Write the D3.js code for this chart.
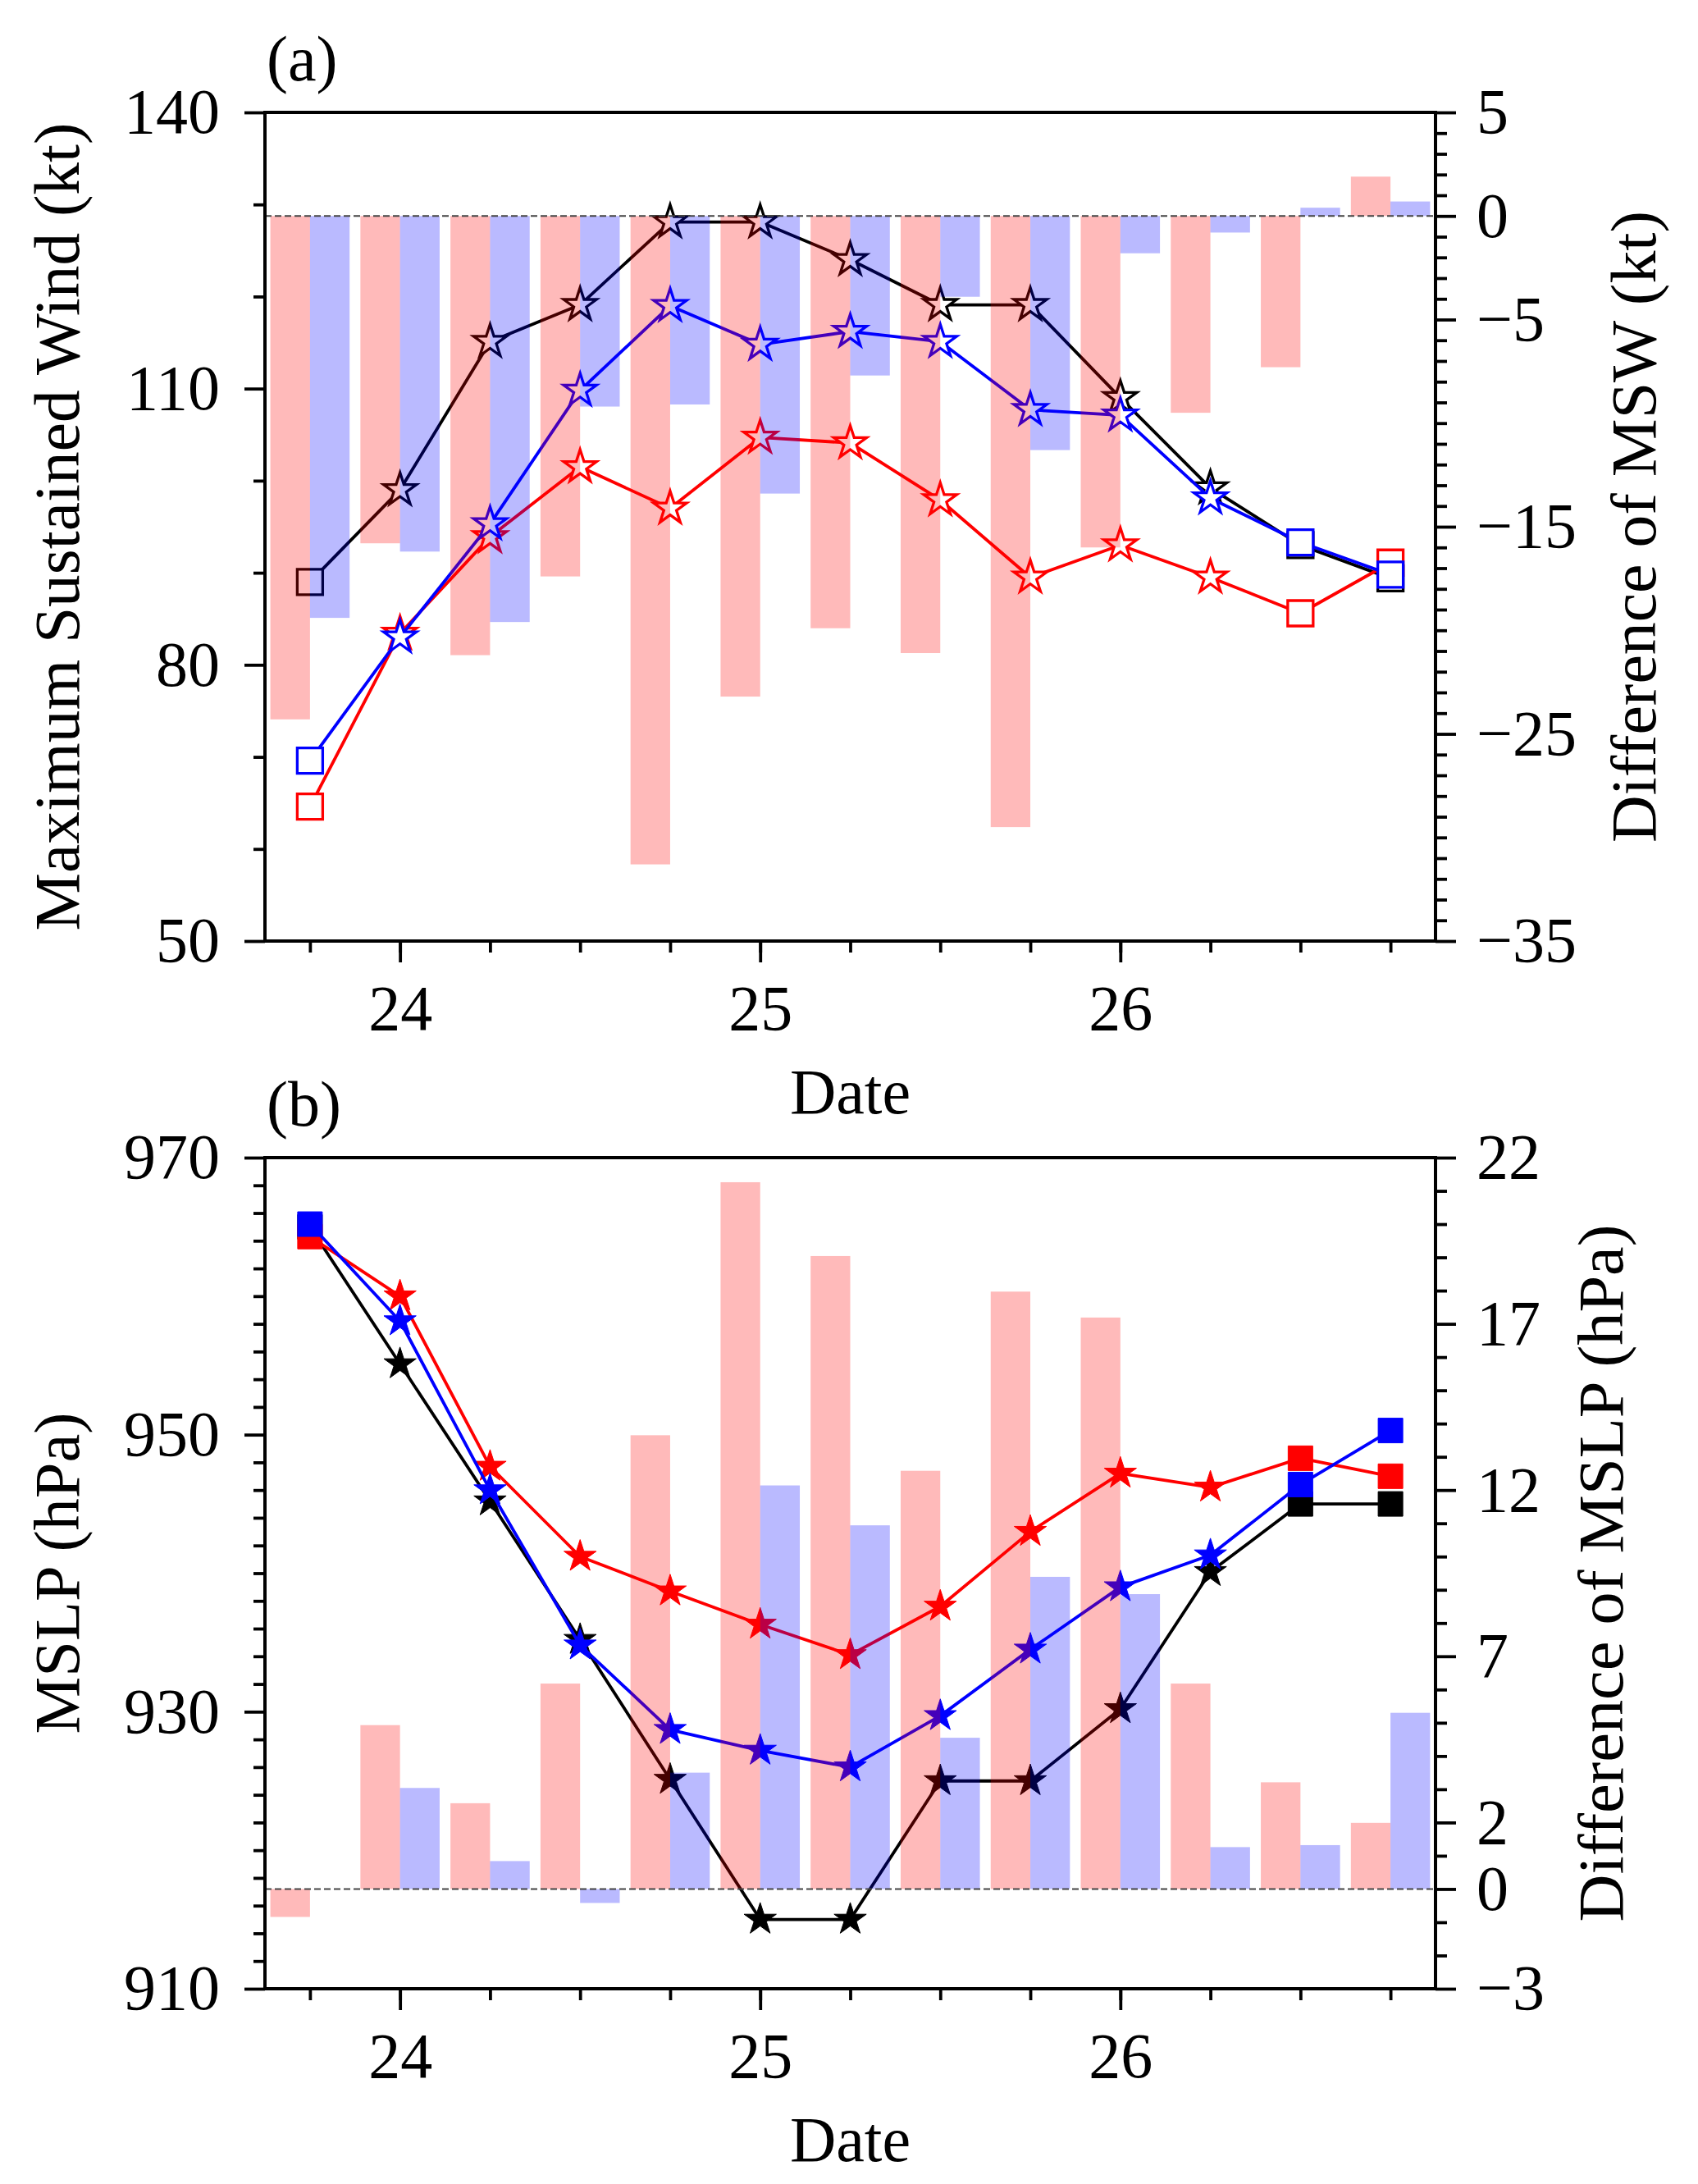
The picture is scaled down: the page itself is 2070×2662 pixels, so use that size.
<!DOCTYPE html>
<html>
<head>
<meta charset="utf-8">
<script src="https://cdn.jsdelivr.net/npm/d3@7"></script>
<style>
  html, body { margin: 0; padding: 0; background: #fff; }
  svg { display: block; }
  text { font-family: "Liberation Serif", "Times New Roman", serif; fill: #000; }
</style>
</head>
<body>
<svg id="chart" width="2070" height="2662"></svg>
<script>
// ---------------- DATA ----------------
const times = [23.75, 24.0, 24.25, 24.5, 24.75, 25.0, 25.25, 25.5, 25.75, 26.0, 26.25, 26.5, 26.75];

// (a) Maximum sustained wind (kt)
const mswBlack = [89.0, 99.0, 115.1, 119.1, 128.1, 128.1, 124.0, 119.1, 119.1, 109.0, 99.2, 93.0, 89.4];
const mswBlue  = [69.6, 83.0, 95.3, 109.8, 119.0, 114.8, 116.2, 115.1, 107.7, 107.1, 98.1, 93.3, 89.8];
const mswRed   = [64.6, 83.4, 93.9, 101.5, 97.0, 104.7, 104.1, 97.9, 89.5, 93.0, 89.5, 85.6, 91.1];
// (a) differences of MSW (kt), right axis
const mswDiffRed  = [-24.3, -15.8, -21.2, -17.4, -31.3, -23.2, -19.9, -21.1, -29.5, -16.0, -9.5, -7.3, 1.9];
const mswDiffBlue = [-19.4, -16.2, -19.6, -9.2, -9.1, -13.4, -7.7, -3.9, -11.3, -1.8, -0.8, 0.4, 0.7];

// (b) Minimum sea level pressure (hPa)
const mslpBlack = [965.0, 955.1, 945.2, 935.2, 925.1, 915.0, 915.0, 925.0, 925.0, 930.2, 940.1, 945.0, 945.0];
const mslpRed   = [964.3, 960.0, 947.7, 941.2, 938.7, 936.3, 934.1, 937.6, 943.0, 947.2, 946.2, 948.3, 947.0];
const mslpBlue  = [965.2, 958.2, 946.0, 934.8, 928.7, 927.2, 926.0, 929.7, 934.5, 939.0, 941.3, 946.4, 950.3];
// (b) differences of MSLP (hPa), right axis
const mslpDiffRed  = [-0.84, 4.93, 2.58, 6.18, 13.65, 21.26, 19.04, 12.58, 17.97, 17.19, 6.18, 3.21, 1.99];
const mslpDiffBlue = [0.0, 3.04, 0.84, -0.42, 3.5, 12.14, 10.94, 4.55, 9.39, 8.87, 1.26, 1.32, 5.3];

// tick labels
const dateTicks = [24, 25, 26];
const mswTicks = [50, 80, 110, 140];
const mswDiffTicks = [5, 0, -5, -15, -25, -35];
const mslpTicks = [910, 930, 950, 970];
const mslpDiffTicks = [22, 17, 12, 7, 2, 0, -3];

// labels
const panelLabels = ["(a)", "(b)"];
const xTitle = "Date";
const yTitlesLeft = ["Maximum Sustained Wind (kt)", "MSLP (hPa)"];
const yTitlesRight = ["Difference of MSW (kt)", "Difference of MSLP (hPa)"];

// ---------------- LAYOUT ----------------
const svg = d3.select("#chart");
svg.append("rect").attr("width", 2070).attr("height", 2662).attr("fill", "#fff");

const FS = 78;
const L = 323, R = 1750;
const x = d3.scaleLinear().domain([23.625, 26.875]).range([L, R]);
const barW = 0.11;
const minorX = d3.range(23.75, 26.76, 0.25);

function fmt(v) { return v < 0 ? "\u2212" + Math.abs(v) : String(v); }

function panel(cfg) {
  const { top, bottom, yL, yR, black, red, blue, dRed, dBlue, leftMajor, leftMinor,
          rightMajor, rightMinor, filled, label, leftTitle, rightTitle, rightTitleX,
          leftLen, rightLen } = cfg;
  const g = svg.append("g");
  yL.range([bottom, top]);
  yR.range([bottom, top]);

  // series lines and markers
  const series = [
    { vals: black, color: "#000000" },
    { vals: red,   color: "#ff0000" },
    { vals: blue,  color: "#0000ff" }
  ];
  const line = d3.line().x((d, i) => x(times[i])).y(d => yL(d));
  series.forEach(s => {
    g.append("path").attr("d", line(s.vals)).attr("fill", "none")
      .attr("stroke", s.color).attr("stroke-width", 3.8).attr("stroke-linejoin", "round");
    g.selectAll(null).data(s.vals).enter().append("path")
      .attr("transform", (d, i) => `translate(${x(times[i])},${yL(d)})`)
      .attr("d", (d, i) => {
        const sq = (i === 0 || i >= times.length - 2);
        if (sq) return d3.symbol().type(d3.symbolSquare).size(filled ? 900 : 961)();
        return d3.symbol().type(d3.symbolStar).size(filled ? 480 : 500)();
      })
      .attr("fill", filled ? s.color : "#ffffff")
      .attr("stroke", s.color)
      .attr("stroke-width", filled ? 1 : 3.3)
      .attr("stroke-linejoin", "miter");
  });

  // difference bars (translucent, on top of lines)
  g.selectAll(null).data(dRed).enter().append("rect")
    .attr("x", (d, i) => x(times[i] - barW))
    .attr("width", (d, i) => x(times[i]) - x(times[i] - barW))
    .attr("y", d => Math.min(yR(d), yR(0)))
    .attr("height", d => Math.abs(yR(d) - yR(0)))
    .attr("fill", "#ff0000").attr("fill-opacity", 0.27);
  g.selectAll(null).data(dBlue).enter().append("rect")
    .attr("x", (d, i) => x(times[i]))
    .attr("width", (d, i) => x(times[i] + barW) - x(times[i]))
    .attr("y", d => Math.min(yR(d), yR(0)))
    .attr("height", d => Math.abs(yR(d) - yR(0)))
    .attr("fill", "#0000ff").attr("fill-opacity", 0.27);

  // zero line
  g.append("line").attr("x1", L).attr("x2", R).attr("y1", yR(0)).attr("y2", yR(0))
    .attr("stroke", "#444").attr("stroke-width", 2).attr("stroke-dasharray", "8,4");

  // axes
  const tickStyle = sel => {
    sel.select(".domain").remove();
    sel.selectAll("line").attr("stroke", "#000").attr("stroke-width", 3.8);
    sel.selectAll("text").attr("font-size", FS).attr("font-family", "Liberation Serif, serif");
  };
  g.append("g").attr("transform", `translate(${L},0)`)
    .call(d3.axisLeft(yL).tickValues(leftMinor).tickSize(14).tickFormat("")).call(tickStyle);
  g.append("g").attr("transform", `translate(${L},0)`)
    .call(d3.axisLeft(yL).tickValues(leftMajor).tickSize(25).tickPadding(30).tickFormat(fmt)).call(tickStyle);
  g.append("g").attr("transform", `translate(${R},0)`)
    .call(d3.axisRight(yR).tickValues(rightMinor).tickSize(14).tickFormat("")).call(tickStyle);
  g.append("g").attr("transform", `translate(${R},0)`)
    .call(d3.axisRight(yR).tickValues(rightMajor).tickSize(25).tickPadding(25).tickFormat(fmt)).call(tickStyle);
  g.append("g").attr("transform", `translate(0,${bottom})`)
    .call(d3.axisBottom(x).tickValues(minorX).tickSize(14).tickFormat("")).call(tickStyle);
  g.append("g").attr("transform", `translate(0,${bottom})`)
    .call(d3.axisBottom(x).tickValues(dateTicks).tickSize(26).tickPadding(27).tickFormat(d3.format("d"))).call(tickStyle);

  // frame
  g.append("rect").attr("x", L).attr("y", top).attr("width", R - L).attr("height", bottom - top)
    .attr("fill", "none").attr("stroke", "#000").attr("stroke-width", 4);

  // texts
  g.append("text").attr("x", 325).attr("y", top - 39).attr("font-size", FS).text(label);
  g.append("text").attr("x", (L + R) / 2).attr("y", bottom + 210).attr("text-anchor", "middle")
    .attr("font-size", FS).text(xTitle);
  g.append("text").attr("transform", `translate(96,${(top + bottom) / 2}) rotate(-90)`)
    .attr("text-anchor", "middle").attr("font-size", FS)
    .attr("textLength", leftLen).attr("lengthAdjust", "spacingAndGlyphs").text(leftTitle);
  g.append("text").attr("transform", `translate(${rightTitleX},${(top + bottom) / 2}) rotate(-90)`)
    .attr("text-anchor", "middle").attr("font-size", FS)
    .attr("textLength", rightLen).attr("lengthAdjust", "spacingAndGlyphs").text(rightTitle);
}

panel({
  top: 137, bottom: 1147,
  yL: d3.scaleLinear().domain([50, 140]),
  yR: d3.scaleLinear().domain([-35, 5]),
  black: mswBlack, red: mswRed, blue: mswBlue,
  dRed: mswDiffRed, dBlue: mswDiffBlue,
  leftMajor: mswTicks, leftMinor: d3.range(60, 131, 10).filter(v => !mswTicks.includes(v)),
  rightMajor: mswDiffTicks, rightMinor: d3.range(-34, 5, 1).filter(v => !mswDiffTicks.includes(v)),
  filled: false, label: panelLabels[0],
  leftTitle: yTitlesLeft[0], rightTitle: yTitlesRight[0], rightTitleX: 2018,
  leftLen: 985, rightLen: 770
});

panel({
  top: 1411, bottom: 2424,
  yL: d3.scaleLinear().domain([910, 970]),
  yR: d3.scaleLinear().domain([-3, 22]),
  black: mslpBlack, red: mslpRed, blue: mslpBlue,
  dRed: mslpDiffRed, dBlue: mslpDiffBlue,
  leftMajor: mslpTicks, leftMinor: d3.range(912, 969, 2).filter(v => !mslpTicks.includes(v)),
  rightMajor: mslpDiffTicks, rightMinor: d3.range(-2, 22, 1).filter(v => !mslpDiffTicks.includes(v)),
  filled: true, label: panelLabels[1],
  leftTitle: yTitlesLeft[1], rightTitle: yTitlesRight[1], rightTitleX: 1978,
  leftLen: 392, rightLen: 850
});
</script>
</body>
</html>
